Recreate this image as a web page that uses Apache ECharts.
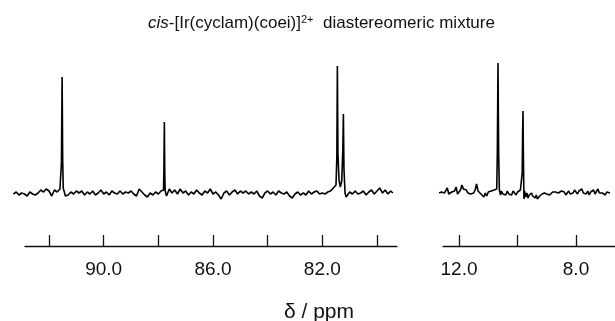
<!DOCTYPE html>
<html>
<head>
<meta charset="utf-8">
<script src="https://cdn.jsdelivr.net/npm/echarts@6/dist/echarts.min.js"></script>
<style>
html,body{margin:0;padding:0;background:#fff;}
#c{width:615px;height:321px;}
</style>
</head>
<body>
<div id="c"></div>
<script>
// Left panel spectrum (ppm, intensity)
var leftPpm = [93.3,93.2,93.1,93.0,92.9,92.8,92.7,92.6,92.5,92.4,92.3,92.2,92.1,92.0,91.9,91.8,91.7,91.6,
  91.57,91.545,91.52,91.50,91.48,
  91.4,91.3,91.2,91.1,91.0,90.9,90.8,90.7,90.6,90.5,90.4,90.3,90.2,90.1,90.0,89.9,89.8,89.7,89.6,89.5,89.4,89.3,89.2,89.1,89.0,
  88.9,88.8,88.7,88.6,88.5,88.4,88.3,88.2,88.1,88.0,87.9,87.84,
  87.81,87.795,87.78,87.765,87.75,
  87.7,87.6,87.5,87.4,87.3,87.2,87.1,87.0,86.9,86.8,86.7,86.6,86.5,86.4,86.3,86.2,86.1,86.0,85.9,85.8,85.7,85.6,85.5,85.4,85.3,85.2,85.1,85.0,
  84.9,84.8,84.7,84.6,84.5,84.4,84.3,84.2,84.1,84.0,83.9,83.8,83.7,83.6,83.5,83.4,83.3,83.2,83.1,83.0,82.9,82.8,82.7,82.6,82.5,82.4,82.3,82.2,82.1,82.0,
  81.9,81.8,81.7,81.6,
  81.55,81.5,81.47,81.45,81.43,81.39,81.34,81.29,81.25,81.23,81.21,81.17,81.13,
  81.1,81.0,80.9,80.8,80.7,80.6,80.5,80.4,80.3,80.2,80.1,80.0,79.9,79.8,79.7,79.6,79.5,79.42];
var leftIntensity = [-1,1,-2,0,-1,-3,1,-1,-2,0,3,1,4,2,-3,3,1,4,
  3,30,116,35,5,
  -3,-2,1,-1,2,0,2,-2,1,-1,2,-2,0,3,-1,1,-2,2,0,-1,2,-1,1,0,2,
  -1,-3,4,1,-2,-4,0,-2,1,-1,2,0,
  3,25,71,20,2,
  -3,4,0,3,-1,4,0,2,-2,1,-1,3,0,-2,2,0,4,-1,1,-2,-6,0,2,-2,1,3,-1,2,
  0,2,-1,1,-1,2,-3,-5,0,2,-1,1,-2,2,0,-1,1,-3,-5,-1,1,-2,0,-2,2,-1,1,2,-1,0,
  -1,1,2,5,
  4,8,35,127,40,13,6,12,45,79,25,0,-4,
  -2,1,-1,2,-1,0,2,-2,1,3,-1,2,5,0,3,-1,2,0];

// Right panel spectrum (ppm, intensity)
var rightPpm = [12.68,12.64,12.6,12.55,12.5,12.45,12.4,12.35,12.3,12.25,12.2,12.15,12.1,12.05,12.0,11.95,11.9,11.85,11.8,11.75,11.7,11.65,11.6,11.55,11.5,11.45,11.4,11.35,11.3,11.25,11.2,11.15,11.1,11.05,11.0,10.95,10.9,10.85,10.8,10.75,
  10.71,10.69,10.667,10.645,10.62,
  10.58,10.55,10.5,10.45,10.4,10.35,10.3,10.25,10.2,10.15,10.1,10.05,10.0,9.95,9.9,9.86,
  9.84,9.825,9.812,9.80,9.78,
  9.76,9.72,9.68,9.64,9.6,9.56,9.52,9.48,9.44,9.4,9.36,9.32,9.28,9.24,9.2,9.16,9.12,9.08,9.04,9.0,8.95,8.9,8.85,8.8,8.75,8.7,8.65,8.6,8.55,8.5,8.45,8.4,8.35,8.3,8.25,8.2,8.15,8.1,8.05,8.0,
  7.95,7.9,7.85,7.8,7.75,7.7,7.65,7.6,7.55,7.5,7.45,7.4,7.35,7.3,7.25,7.2,7.15,7.1,7.05,7.0,6.95,6.9,6.84];
var rightIntensity = [0,-1,1,-1,0,-2,5,-1,-2,1,-1,2,6,-1,1,3,8,4,2,3,0,2,-1,1,0,3,9,2,3,-1,1,-4,0,-3,1,-1,2,0,3,1,
  4,40,130,40,3,
  -2,2,-1,1,-2,2,-1,1,-2,2,0,-2,1,0,3,1,
  20,60,82,40,-6,
  2,-4,0,-5,-2,-4,0,-3,-1,-5,-2,-6,-8,-3,-5,-1,-3,0,-2,-1,1,-2,0,1,-1,1,3,0,-1,2,0,1,-2,0,2,-1,1,0,3,1,
  -1,2,1,4,0,1,-1,2,-2,1,0,3,-1,1,4,0,2,0,1,-2,1,-1,0];

// Axis ticks and labels
var leftTicks = [80,82,84,86,88,90,92];
var leftLabels = [82,86,90];
var rightTicks = [8,10,12];
var rightLabels = [8,12];

function zip(a,b){var r=[];for(var i=0;i<a.length;i++){r.push([a[i],b[i]]);}return r;}

var FONT = 'Liberation Sans, Arial, Helvetica, sans-serif';
var chart = echarts.init(document.getElementById('c'), null, {renderer:'canvas'});

var yHidden = {type:'value', min:-10, max:135, show:false};
function axisStyle(ticks, labels){
  return {
    type:'value', inverse:true, position:'bottom', offset:43,
    splitLine:{show:false},
    axisLine:{show:true, onZero:false, lineStyle:{color:'#111', width:1.3}},
    axisTick:{show:true, inside:true, length:11, customValues:ticks, lineStyle:{color:'#111', width:1.3}},
    axisLabel:{show:true, customValues:labels, margin:14, color:'#111', fontSize:19, fontFamily:FONT,
      formatter:function(v){return v.toFixed(1);}}
  };
}

var option = {
  animation:false,
  backgroundColor:'#fff',
  title:[
    {text:'{i|cis}-[Ir(cyclam)(coei)]{sup|2+}  diastereomeric mixture',
     left:143, top:9,
     textStyle:{fontSize:17, fontWeight:'normal', color:'#111', fontFamily:FONT,
       rich:{
         i:{fontStyle:'italic', fontSize:17, fontFamily:FONT, color:'#111'},
         sup:{fontSize:11, verticalAlign:'top', fontFamily:FONT, color:'#111', padding:[0,0,8,0]}
       }}},
    {text:'\u03b4 / ppm', left:314, top:297, textAlign:'center',
     textStyle:{fontSize:21, fontWeight:'normal', color:'#111', fontFamily:FONT}}
  ],
  grid:[
    {left:13, width:380, top:58, height:145},
    {left:25, width:372, top:58, height:145},
    {left:439, width:171, top:58, height:145},
    {left:443, width:172, top:58, height:145}
  ],
  xAxis:[
    {gridIndex:0, type:'value', inverse:true, min:79.415, max:93.317, show:false},
    Object.assign({gridIndex:1, min:79.268, max:92.878}, axisStyle(leftTicks, leftLabels)),
    {gridIndex:2, type:'value', inverse:true, min:6.838, max:12.684, show:false},
    Object.assign({gridIndex:3, min:6.667, max:12.547}, axisStyle(rightTicks, rightLabels))
  ],
  yAxis:[
    Object.assign({gridIndex:0}, yHidden),
    Object.assign({gridIndex:1}, yHidden),
    Object.assign({gridIndex:2}, yHidden),
    Object.assign({gridIndex:3}, yHidden)
  ],
  series:[
    {type:'line', xAxisIndex:0, yAxisIndex:0, data:zip(leftPpm, leftIntensity), showSymbol:false,
     lineStyle:{color:'#000', width:1.6}, clip:false},
    {type:'line', xAxisIndex:2, yAxisIndex:2, data:zip(rightPpm, rightIntensity), showSymbol:false,
     lineStyle:{color:'#000', width:1.6}, clip:false}
  ]
};
chart.setOption(option);
</script>
</body>
</html>
